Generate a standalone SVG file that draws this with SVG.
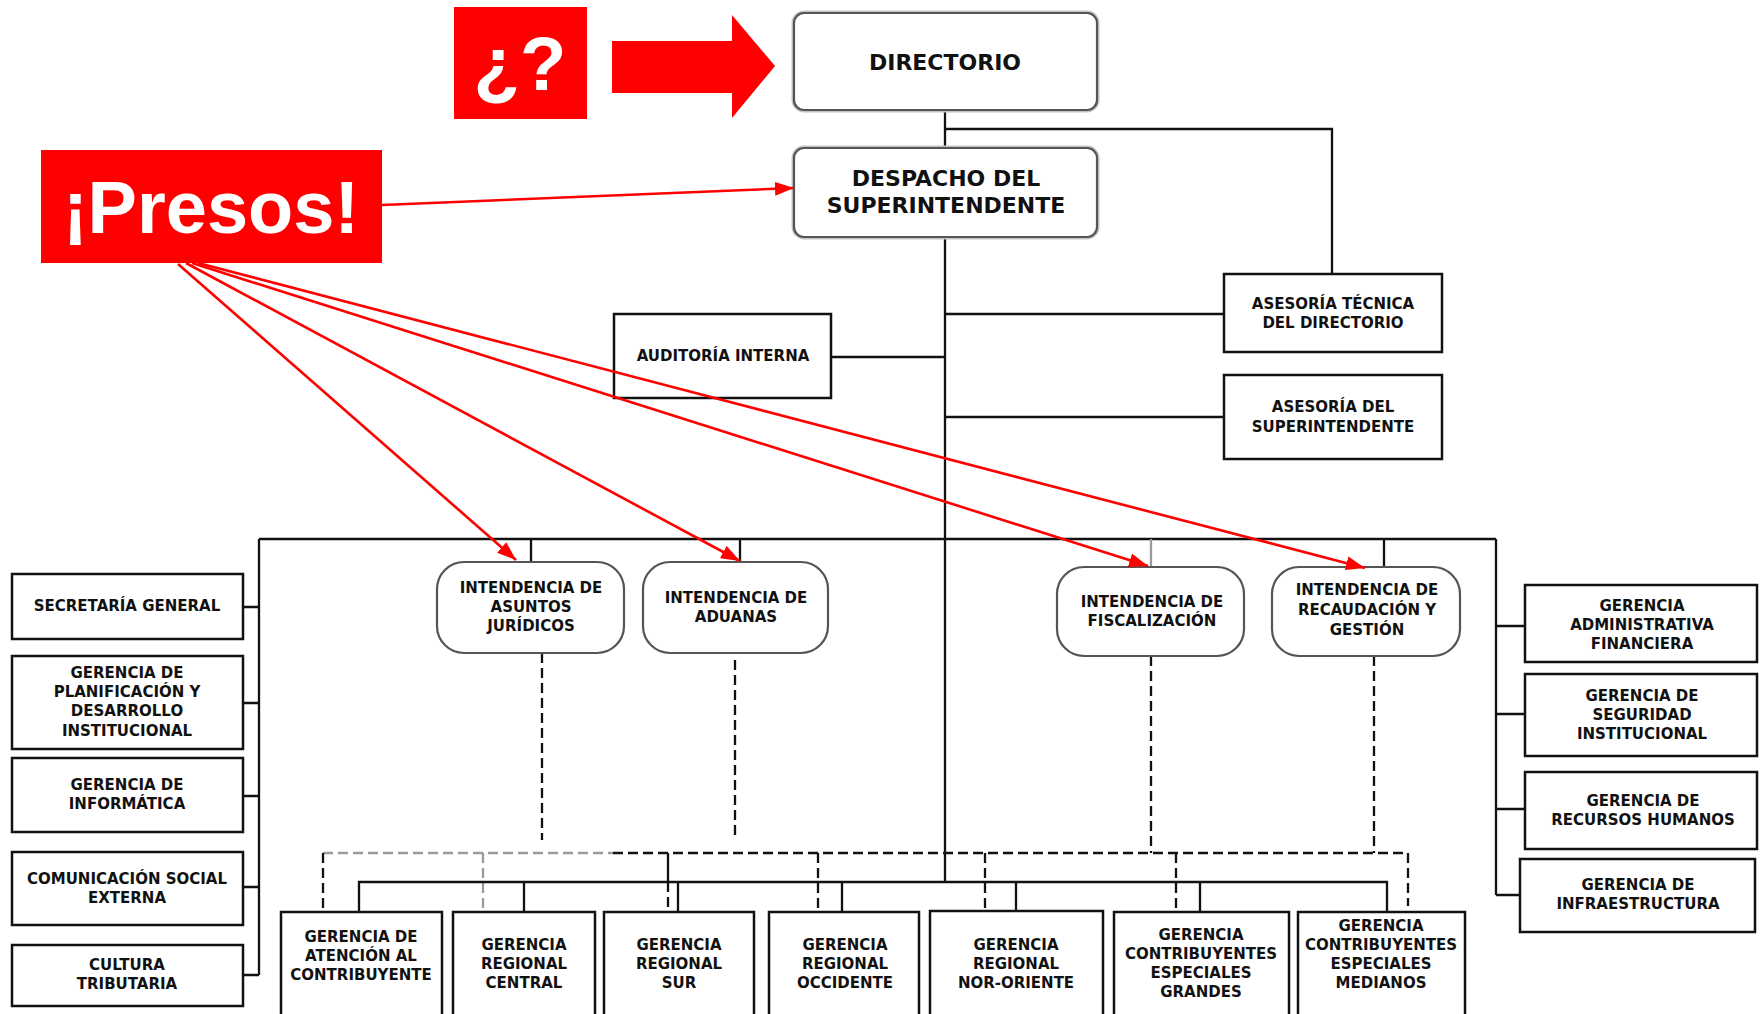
<svg xmlns="http://www.w3.org/2000/svg" width="1764" height="1014" viewBox="0 0 1764 1014">
<style>
  .t { font-family: "DejaVu Sans", "Liberation Sans", sans-serif; font-weight: bold; font-size: 15px; fill: #111; text-anchor: middle; }
  .tb { font-size: 22px; }
  .rb { fill: #fff; stroke: #111; stroke-width: 2.5; }
  .halo { fill: none; stroke: #c4c4c4; stroke-width: 5; }
  .rr { fill: #fff; stroke: #555; stroke-width: 2.2; }
  .ln { fill: none; stroke: #111; stroke-width: 2.3; }
  .lg { fill: none; stroke: #999; stroke-width: 2.3; }
  .dl { fill: none; stroke: #111; stroke-width: 2.3; stroke-dasharray: 10 5; }
  .dg { fill: none; stroke: #9a9a9a; stroke-width: 2.3; stroke-dasharray: 10 5; }
  .ra { fill: none; stroke: #ff0000; stroke-width: 2.6; marker-end: url(#ah); }
  .big { font-family: "Liberation Sans", Arial, sans-serif; font-weight: bold; fill: #fff; text-anchor: middle; }
</style>
<defs>
  <marker id="ah" markerUnits="userSpaceOnUse" markerWidth="20" markerHeight="14" refX="19" refY="7" orient="auto">
    <path d="M0,0 L19,7 L0,14 z" fill="#ff0000"/>
  </marker>
</defs>
<rect x="0" y="0" width="1764" height="1014" fill="#fff"/>

<g id="connectors">
  <path class="ln" d="M945,110 V148"/>
  <path class="ln" d="M945,129 H1332 V274"/>
  <path class="ln" d="M945,237 V882"/>
  <path class="ln" d="M831,357 H945"/>
  <path class="ln" d="M945,314 H1224"/>
  <path class="ln" d="M945,417 H1224"/>
  <path class="ln" d="M259,539 H1496"/>
  <path class="ln" d="M259,539 V975"/>
  <path class="ln" d="M1496,539 V895"/>
  <path class="ln" d="M243,607 H259 M243,703 H259 M243,796 H259 M243,887 H259 M243,975 H259"/>
  <path class="ln" d="M1496,626 H1525 M1496,714 H1525 M1496,809 H1525 M1496,895 H1520"/>
  <path class="ln" d="M531,539 V562 M740,539 V562 M1384,539 V567"/>
  <path class="lg" d="M1151,539 V567"/>
  <path class="dl" d="M542,653 V840 M735,660 V840 M1151,656 V853 M1374,656 V853"/>
  <path class="dg" d="M323,853 H613"/>
  <path class="dl" d="M613,853 H1408 V906"/>
  <path class="dl" d="M323,853 V912"/>
  <path class="dg" d="M483,853 V912"/>
  <path class="ln" d="M668,853 V882"/>
  <path class="dl" d="M668,882 V912"/>
  <path class="dl" d="M818,853 V912 M985,853 V912 M1176,853 V912"/>
  <path class="ln" d="M359,912 V882 H1387 V912"/>
  <path class="ln" d="M524,882 V912 M678,882 V912 M842,882 V912 M1016,882 V912 M1200,882 V912"/>
</g>

<g id="annotation-question">
  <rect x="454" y="7" width="133" height="112" fill="#ff0000"/>
  <text class="big" x="520" y="90" font-size="76">¿?</text>
</g>
<g id="annotation-block-arrow">
  <polygon points="612,41 732,41 732,15 775,66 732,118 732,93 612,93" fill="#ff0000"/>
</g>
<g id="annotation-presos">
  <rect x="41" y="150" width="341" height="113" fill="#ff0000"/>
  <text class="big" x="211" y="233" font-size="74">¡Presos!</text>
</g>

<g id="directorio">
  <rect class="halo" x="794" y="13" width="303" height="97" rx="10"/>
  <rect class="rr" x="794" y="13" width="303" height="97" rx="10"/>
  <text class="t tb" x="945" y="70">DIRECTORIO</text>
</g>
<g id="despacho">
  <rect class="halo" x="794" y="148" width="303" height="89" rx="10"/>
  <rect class="rr" x="794" y="148" width="303" height="89" rx="10"/>
  <text class="t tb" x="946" y="186">DESPACHO DEL</text>
  <text class="t tb" x="946" y="213">SUPERINTENDENTE</text>
</g>
<g id="auditoria">
  <rect class="rb" x="614" y="314" width="217" height="84"/>
  <text class="t" x="723" y="361">AUDITORÍA INTERNA</text>
</g>
<g id="asesoria-tecnica">
  <rect class="rb" x="1224" y="274" width="218" height="78"/>
  <text class="t" x="1333" y="309">ASESORÍA TÉCNICA</text>
  <text class="t" x="1333" y="328">DEL DIRECTORIO</text>
</g>
<g id="asesoria-super">
  <rect class="rb" x="1224" y="375" width="218" height="84"/>
  <text class="t" x="1333" y="412">ASESORÍA DEL</text>
  <text class="t" x="1333" y="432">SUPERINTENDENTE</text>
</g>

<g id="secretaria">
  <rect class="rb" x="12" y="574" width="231" height="65"/>
  <text class="t" x="127" y="611">SECRETARÍA GENERAL</text>
</g>
<g id="planificacion">
  <rect class="rb" x="12" y="656" width="231" height="93"/>
  <text class="t" x="127" y="678">GERENCIA DE</text>
  <text class="t" x="127" y="697">PLANIFICACIÓN Y</text>
  <text class="t" x="127" y="716">DESARROLLO</text>
  <text class="t" x="127" y="736">INSTITUCIONAL</text>
</g>
<g id="informatica">
  <rect class="rb" x="12" y="758" width="231" height="74"/>
  <text class="t" x="127" y="790">GERENCIA DE</text>
  <text class="t" x="127" y="809">INFORMÁTICA</text>
</g>
<g id="comunicacion">
  <rect class="rb" x="12" y="852" width="231" height="73"/>
  <text class="t" x="127" y="884">COMUNICACIÓN SOCIAL</text>
  <text class="t" x="127" y="903">EXTERNA</text>
</g>
<g id="cultura">
  <rect class="rb" x="12" y="945" width="231" height="61"/>
  <text class="t" x="127" y="970">CULTURA</text>
  <text class="t" x="127" y="989">TRIBUTARIA</text>
</g>

<g id="int-juridicos">
  <rect class="rr" x="437" y="562" width="187" height="91" rx="27"/>
  <text class="t" x="531" y="593">INTENDENCIA DE</text>
  <text class="t" x="531" y="612">ASUNTOS</text>
  <text class="t" x="531" y="631">JURÍDICOS</text>
</g>
<g id="int-aduanas">
  <rect class="rr" x="643" y="562" width="185" height="91" rx="27"/>
  <text class="t" x="736" y="603">INTENDENCIA DE</text>
  <text class="t" x="736" y="622">ADUANAS</text>
</g>
<g id="int-fiscalizacion">
  <rect class="rr" x="1057" y="567" width="187" height="89" rx="27"/>
  <text class="t" x="1152" y="607">INTENDENCIA DE</text>
  <text class="t" x="1152" y="626">FISCALIZACIÓN</text>
</g>
<g id="int-recaudacion">
  <rect class="rr" x="1272" y="567" width="188" height="89" rx="27"/>
  <text class="t" x="1367" y="595">INTENDENCIA DE</text>
  <text class="t" x="1367" y="615">RECAUDACIÓN Y</text>
  <text class="t" x="1367" y="635">GESTIÓN</text>
</g>

<g id="ger-administrativa">
  <rect class="rb" x="1525" y="585" width="232" height="77"/>
  <text class="t" x="1642" y="611">GERENCIA</text>
  <text class="t" x="1642" y="630">ADMINISTRATIVA</text>
  <text class="t" x="1642" y="649">FINANCIERA</text>
</g>
<g id="ger-seguridad">
  <rect class="rb" x="1525" y="674" width="232" height="82"/>
  <text class="t" x="1642" y="701">GERENCIA DE</text>
  <text class="t" x="1642" y="720">SEGURIDAD</text>
  <text class="t" x="1642" y="739">INSTITUCIONAL</text>
</g>
<g id="ger-rrhh">
  <rect class="rb" x="1525" y="772" width="232" height="77"/>
  <text class="t" x="1643" y="806">GERENCIA DE</text>
  <text class="t" x="1643" y="825">RECURSOS HUMANOS</text>
</g>
<g id="ger-infraestructura">
  <rect class="rb" x="1520" y="859" width="235" height="73"/>
  <text class="t" x="1638" y="890">GERENCIA DE</text>
  <text class="t" x="1638" y="909">INFRAESTRUCTURA</text>
</g>

<g id="ger-atencion">
  <rect class="rb" x="281" y="912" width="161" height="120"/>
  <text class="t" x="361" y="942">GERENCIA DE</text>
  <text class="t" x="361" y="961">ATENCIÓN AL</text>
  <text class="t" x="361" y="980">CONTRIBUYENTE</text>
</g>
<g id="ger-central">
  <rect class="rb" x="453" y="912" width="142" height="120"/>
  <text class="t" x="524" y="950">GERENCIA</text>
  <text class="t" x="524" y="969">REGIONAL</text>
  <text class="t" x="524" y="988">CENTRAL</text>
</g>
<g id="ger-sur">
  <rect class="rb" x="604" y="912" width="150" height="120"/>
  <text class="t" x="679" y="950">GERENCIA</text>
  <text class="t" x="679" y="969">REGIONAL</text>
  <text class="t" x="679" y="988">SUR</text>
</g>
<g id="ger-occidente">
  <rect class="rb" x="769" y="912" width="150" height="120"/>
  <text class="t" x="845" y="950">GERENCIA</text>
  <text class="t" x="845" y="969">REGIONAL</text>
  <text class="t" x="845" y="988">OCCIDENTE</text>
</g>
<g id="ger-nororiente">
  <rect class="rb" x="930" y="911" width="173" height="121"/>
  <text class="t" x="1016" y="950">GERENCIA</text>
  <text class="t" x="1016" y="969">REGIONAL</text>
  <text class="t" x="1016" y="988">NOR-ORIENTE</text>
</g>
<g id="ger-grandes">
  <rect class="rb" x="1114" y="912" width="175" height="120"/>
  <text class="t" x="1201" y="940">GERENCIA</text>
  <text class="t" x="1201" y="959">CONTRIBUYENTES</text>
  <text class="t" x="1201" y="978">ESPECIALES</text>
  <text class="t" x="1201" y="997">GRANDES</text>
</g>
<g id="ger-medianos">
  <rect class="rb" x="1298" y="912" width="167" height="120"/>
  <text class="t" x="1381" y="931">GERENCIA</text>
  <text class="t" x="1381" y="950">CONTRIBUYENTES</text>
  <text class="t" x="1381" y="969">ESPECIALES</text>
  <text class="t" x="1381" y="988">MEDIANOS</text>
</g>

<g id="annotation-arrows">
  <path class="ra" d="M382,205 L794,188"/>
  <path class="ra" d="M178,264 L516,560"/>
  <path class="ra" d="M186,263 L740,561"/>
  <path class="ra" d="M192,263 L1148,566"/>
  <path class="ra" d="M198,263 L1365,568"/>
</g>
</svg>
